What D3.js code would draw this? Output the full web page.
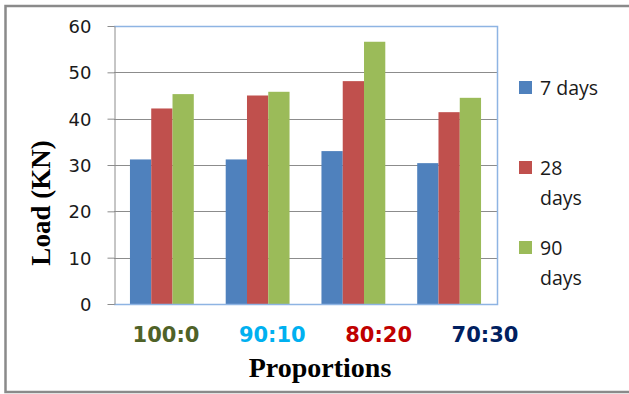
<!DOCTYPE html>
<html><head><meta charset="utf-8">
<script src="https://cdn.jsdelivr.net/npm/d3@7"></script>
<style>html,body{margin:0;padding:0;background:#fff;}svg{display:block;}</style>
</head><body>
<svg id="c" width="629" height="394"></svg>
<script>
const categories = ["100:0", "90:10", "80:20", "70:30"];
const categoryColors = ["#4f6228", "#00b0f0", "#c00000", "#002060"];
const seriesNames = ["7 days", "28 days", "90 days"];
const seriesColors = ["#4f81bd", "#c0504d", "#9bbb59"];
const days7 = [31.2, 31.2, 33.0, 30.4];
const days28 = [42.2, 45.0, 48.1, 41.4];
const days90 = [45.3, 45.8, 56.6, 44.5];
const yTicks = [0, 10, 20, 30, 40, 50, 60];

const series = [days7, days28, days90];
const svg = d3.select("#c");

// outer frame
svg.append("rect").attr("x", 5.5).attr("y", 6).attr("width", 640).attr("height", 386)
  .attr("fill", "none").attr("stroke", "#8a8a8a").attr("stroke-width", 2.5);

const L = 114, R = 497, T = 26, B = 304;
const x0 = d3.scaleBand().domain(categories).range([L, R]).paddingInner(1.5/4.5).paddingOuter(0.75/4.5);
const x1 = d3.scaleBand().domain(d3.range(3)).range([0, x0.bandwidth()]);
const y = d3.scaleLinear().domain([0, 60]).range([B, T]);

// gridlines
svg.append("g").selectAll("line").data(yTicks.filter(d => d > 0 && d < 60)).join("line")
  .attr("x1", L).attr("x2", R).attr("y1", d => Math.round(y(d)) + 0.5).attr("y2", d => Math.round(y(d)) + 0.5)
  .attr("stroke", "#8c8c8c").attr("stroke-width", 1);

// bars
const g = svg.append("g");
categories.forEach((c, i) => {
  series.forEach((s, j) => {
    g.append("rect")
      .attr("x", x0(c) + x1(j)).attr("width", x1.bandwidth())
      .attr("y", y(s[i])).attr("height", y(0) - y(s[i]))
      .attr("fill", seriesColors[j]);
  });
});

// plot border (top/right/bottom light blue)
svg.append("path")
  .attr("d", `M${L},${T + 0.5}H${R + 0.5}V${B + 0.5}H${L}`)
  .attr("fill", "none").attr("stroke", "#8eb4e3").attr("stroke-width", 1.5);

// y axis
const yAxis = d3.axisLeft(y).tickValues(yTicks).tickSize(7).tickSizeOuter(0).tickPadding(16);
const ya = svg.append("g").attr("transform", `translate(${L + 0.5},0)`).call(yAxis);
ya.select(".domain").attr("stroke", "#8c8c8c");
ya.selectAll(".tick line").attr("stroke", "#8c8c8c");
ya.selectAll(".tick text").attr("font-family", "'DejaVu Sans', sans-serif").attr("font-size", 18)
  .attr("fill", "#1a1a1a").attr("dy", "0.36em");

// category labels (positioned by their own point scale)
const xl = d3.scalePoint().domain(categories).range([166, 485]);
svg.append("g").selectAll("text").data(categories).join("text")
  .attr("x", d => xl(d)).attr("y", 342).attr("text-anchor", "middle")
  .attr("font-family", "'DejaVu Sans', sans-serif").attr("font-weight", "bold").attr("font-size", 21)
  .attr("fill", (d, i) => categoryColors[i]).text(d => d);

// axis titles
svg.append("text").attr("x", 320).attr("y", 377).attr("text-anchor", "middle")
  .attr("font-family", "'Liberation Serif', serif").attr("font-weight", "bold").attr("font-size", 28)
  .attr("fill", "#000").text("Proportions");
svg.append("text").attr("transform", "translate(50,203) rotate(-90)").attr("text-anchor", "middle")
  .attr("font-family", "'Liberation Serif', serif").attr("font-weight", "bold").attr("font-size", 27)
  .attr("fill", "#000").text("Load (KN)");

// legend
const legendLines = [["7 days"], ["28", "days"], ["90", "days"]];
const legendBase = [95, 175, 255];
const lg = svg.append("g");
legendLines.forEach((lines, i) => {
  lg.append("rect").attr("x", 519).attr("y", legendBase[i] - 14).attr("width", 13).attr("height", 13)
    .attr("fill", seriesColors[i]);
  lines.forEach((t, k) => {
    lg.append("text").attr("x", 540).attr("y", legendBase[i] + k * 30)
      .attr("font-family", "'Open Sans', sans-serif").attr("font-size", 19.5).attr("fill", "#1a1a1a").text(t);
  });
});
</script>
</body></html>
